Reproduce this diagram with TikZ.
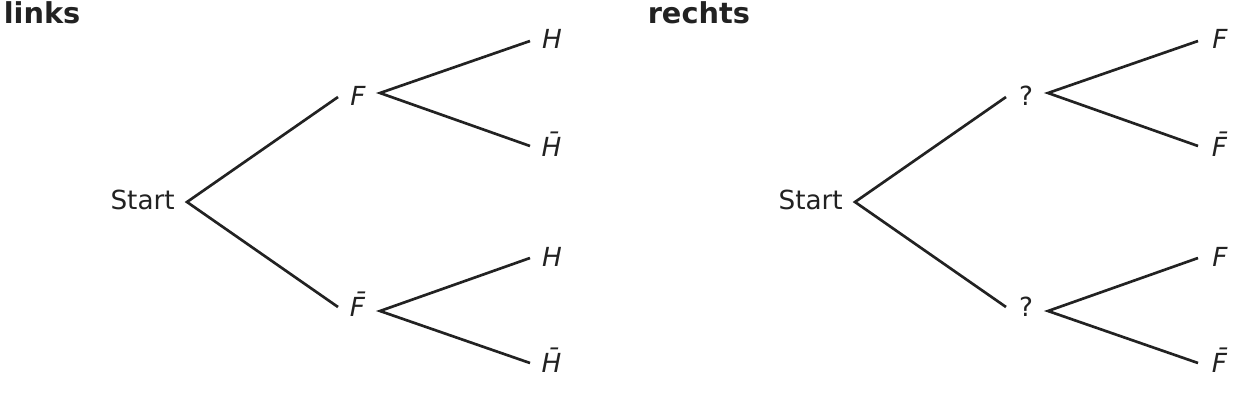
\documentclass[tikz,border=0pt]{standalone}
\usepackage{fontspec}
\setmainfont{DejaVu Sans}
\begin{document}
\begin{tikzpicture}[x=0.75pt,y=-0.75pt,
  lbl/.style={inner sep=0pt,anchor=base,text=ink,font=\fontsize{19.7}{21}\selectfont},
  ttl/.style={inner sep=0pt,anchor=base west,text=ink,font=\fontsize{21.6}{23}\selectfont\bfseries},
  edge/.style={draw=ink,line width=2pt}]
\definecolor{ink}{HTML}{222222}
\useasboundingbox (0,0) rectangle (1259,408);
\node[ttl] (tl) at (3.5,23.3) {links};
\node[ttl] (tr) at (647.5,23.3) {rechts};
\foreach \s/\dx/\a/\b/\c/\d in {L/0/{\textit{F}}/{\textit{F̄}}/H/H̄, R/668/?/?/F/F̄}{
  \begin{scope}[xshift=\dx*0.75pt]
  \node[lbl,anchor=base east] (\s start) at (175,209.3) {Start};
  \coordinate (\s r) at (187,202);
  \coordinate (\s u) at (338,97);
  \coordinate (\s d) at (338,307);
  \coordinate (\s uu) at (380,93);
  \coordinate (\s dd) at (380,311);
  \coordinate (\s u1) at (530,41);
  \coordinate (\s u2) at (530,146);
  \coordinate (\s d1) at (530,258);
  \coordinate (\s d2) at (530,363);
  \node[lbl] (\s A) at (358,105.5) {\a};
  \node[lbl] (\s B) at (358,316.5) {\b};
  \node[lbl] (\s C) at (552,48.5) {\textit{\c}};
  \node[lbl] (\s D) at (552,156) {\textit{\d}};
  \node[lbl] (\s E) at (552,266.7) {\textit{\c}};
  \node[lbl] (\s G) at (552,372) {\textit{\d}};
  \draw[edge] (\s u) -- (\s r) -- (\s d);
  \draw[edge] (\s u1) -- (\s uu) -- (\s u2);
  \draw[edge] (\s d1) -- (\s dd) -- (\s d2);
  \end{scope}
}
\end{tikzpicture}
\end{document}
